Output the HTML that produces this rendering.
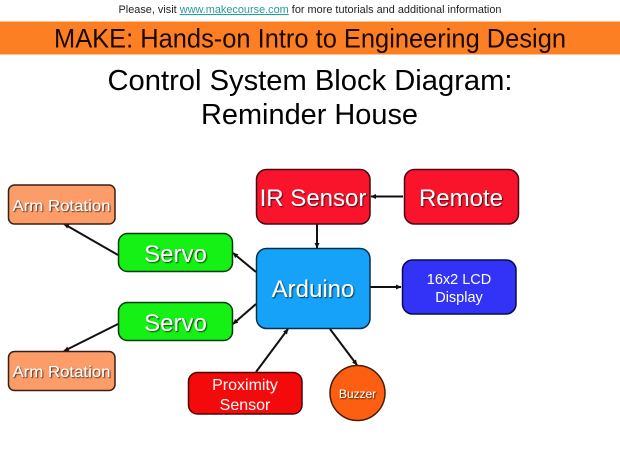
<!DOCTYPE html>
<html>
<head>
<meta charset="utf-8">
<style>
html,body{margin:0;padding:0;background:#fff}
svg{display:block}
text{font-family:"Liberation Sans",Arial,sans-serif;text-anchor:middle}
.w{fill:#fff;filter:url(#ts)}
.p{fill:#fff}
</style>
</head>
<body>
<svg width="620" height="465" viewBox="0 0 620 465" xmlns="http://www.w3.org/2000/svg">
<defs>
<filter id="ts" x="-10%" y="-20%" width="120%" height="140%">
<feDropShadow dx="1" dy="1" stdDeviation="0.5" flood-color="#000" flood-opacity="0.7"/>
</filter>
<marker id="a" markerWidth="6" markerHeight="6" refX="5" refY="3" orient="auto" markerUnits="userSpaceOnUse">
<path d="M0,0.5 L5.5,3 L0,5.5 Z" fill="#111"/>
</marker>
</defs>
<rect width="620" height="465" fill="#fff"/>
<text x="310" y="13" font-size="11" fill="#222" textLength="383" lengthAdjust="spacingAndGlyphs">Please, visit <tspan fill="#2a9a9a" text-decoration="underline">www.makecourse.com</tspan> for more tutorials and additional information</text>
<rect x="0" y="21.500" width="620" height="33" fill="#fd7f23"/>
<text x="310" y="47.500" font-size="27" fill="#1a0a00" textLength="512" lengthAdjust="spacingAndGlyphs">MAKE: Hands-on Intro to Engineering Design</text>
<text x="310" y="90" font-size="29" fill="#000" textLength="405" lengthAdjust="spacingAndGlyphs">Control System Block Diagram:</text>
<text x="309.500" y="124" font-size="29" fill="#000" textLength="217" lengthAdjust="spacingAndGlyphs">Reminder House</text>

<g stroke="#111" stroke-width="2" fill="none">
<line x1="118" y1="255" x2="64" y2="224" marker-end="url(#a)"/>
<line x1="118" y1="324" x2="64" y2="351" marker-end="url(#a)"/>
<line x1="256" y1="272" x2="233" y2="253" marker-end="url(#a)"/>
<line x1="256" y1="304" x2="233" y2="324" marker-end="url(#a)"/>
<line x1="403" y1="196.500" x2="371" y2="196.500" marker-end="url(#a)"/>
<line x1="317" y1="224" x2="317" y2="248" marker-end="url(#a)"/>
<line x1="370" y1="287" x2="401" y2="287" marker-end="url(#a)"/>
<line x1="256" y1="372" x2="288" y2="329" marker-end="url(#a)"/>
<line x1="330" y1="329" x2="357" y2="365" marker-end="url(#a)"/>
</g>

<g stroke-width="1.500">
<rect x="8.500" y="185" width="106.500" height="39" rx="6" fill="#fb9c69" stroke="#3a2010"/>
<rect x="8.500" y="351.500" width="106.500" height="39" rx="6" fill="#fb9c69" stroke="#3a2010"/>
<rect x="118.500" y="233.500" width="114" height="38" rx="9" fill="#15f015" stroke="#063a06"/>
<rect x="118.500" y="302.500" width="114" height="38" rx="9" fill="#15f015" stroke="#063a06"/>
<rect x="256.500" y="169.500" width="113.500" height="54.500" rx="10" fill="#f9142c" stroke="#4a0810"/>
<rect x="404.500" y="169.500" width="114" height="54.500" rx="10" fill="#f9142c" stroke="#4a0810"/>
<rect x="256.500" y="248.500" width="113.500" height="80" rx="10" fill="#15a2f8" stroke="#06304a"/>
<rect x="402.500" y="260" width="113.500" height="54" rx="10" fill="#3333f8" stroke="#0a0a50"/>
<rect x="188.500" y="372.500" width="113.500" height="41.500" rx="9" fill="#f40a0a" stroke="#4a0505"/>
<circle cx="357.500" cy="393" r="27.500" fill="#fd5f12" stroke="#4a1c05"/>
</g>

<text class="w" x="61.500" y="211" font-size="15.500" textLength="98" lengthAdjust="spacingAndGlyphs">Arm Rotation</text>
<text class="w" x="61.500" y="377" font-size="15.500" textLength="98" lengthAdjust="spacingAndGlyphs">Arm Rotation</text>
<text class="w" x="175.500" y="262" font-size="24">Servo</text>
<text class="w" x="175.500" y="331" font-size="24">Servo</text>
<text class="w" x="313" y="206" font-size="24">IR Sensor</text>
<text class="w" x="461" y="206" font-size="24">Remote</text>
<text class="w" x="313" y="297" font-size="24">Arduino</text>
<text class="p" x="459" y="284" font-size="14.500">16x2 LCD</text>
<text class="p" x="459" y="302" font-size="14.500">Display</text>
<text class="p" x="245" y="390" font-size="16">Proximity</text>
<text class="p" x="245" y="410" font-size="16">Sensor</text>
<text class="w" x="357.500" y="398" font-size="12">Buzzer</text>
</svg>
</body>
</html>
